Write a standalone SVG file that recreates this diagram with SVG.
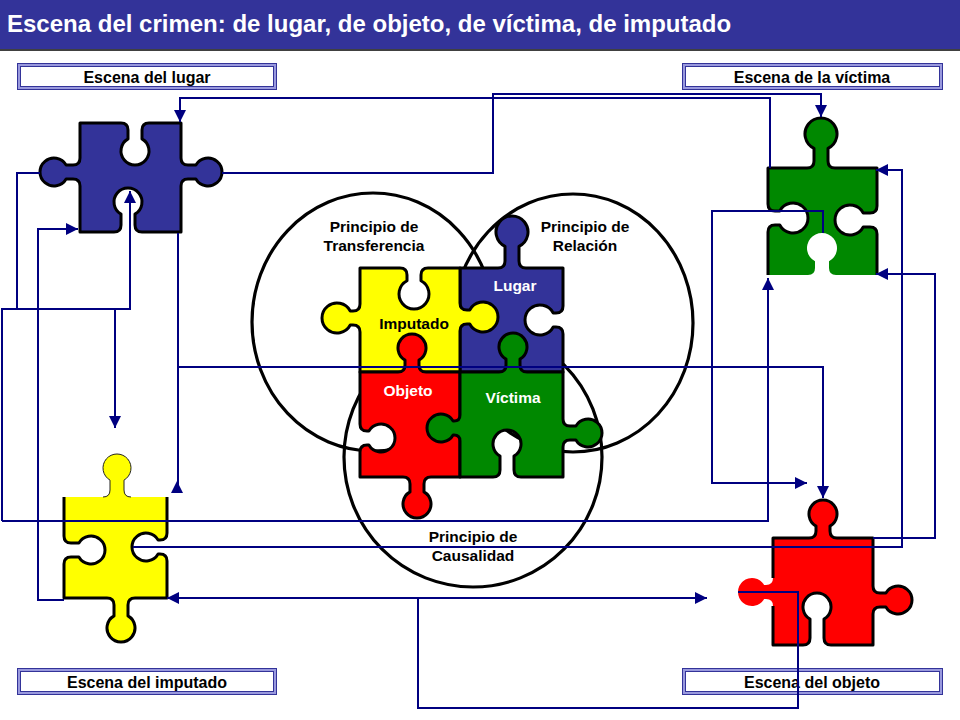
<svg xmlns="http://www.w3.org/2000/svg" width="960" height="720" viewBox="0 0 960 720">
<style>
.t{font-family:"Liberation Sans",Arial,sans-serif;font-weight:bold;text-anchor:middle}
.lbl{font-size:16px;fill:#000}
.pr{font-size:15.5px;fill:#000}
.wt{fill:#fff}
.pc{stroke:#000;stroke-width:3;stroke-linejoin:round}
.ps{fill:none;stroke:#000;stroke-width:3;stroke-linejoin:round}
.circ{fill:none;stroke:#000;stroke-width:3.2}
.conn{fill:none;stroke:#000080;stroke-width:2}
.arr{marker-end:url(#ah)}
.bo{fill:#fff;stroke:#333399;stroke-width:1}
.bm{fill:none;stroke:#9999dd;stroke-width:2}
.bi{fill:#fff;stroke:#333399;stroke-width:1}
</style>
<defs>
<marker id="ah" viewBox="0 0 12 12" refX="12" refY="6" markerWidth="12" markerHeight="12" markerUnits="userSpaceOnUse" orient="auto">
<path d="M0,0 L12,6 L0,12 z" fill="#000080"/>
</marker>
</defs>
<rect width="960" height="720" fill="#fff"/>
<g id="header">
<rect x="0" y="0" width="960" height="49" fill="#333399"/>
<line x1="0" y1="50" x2="960" y2="50" stroke="#000" stroke-width="1.5"/>
<text x="7" y="32" font-family="'Liberation Sans',Arial,sans-serif" font-weight="bold" font-size="24" fill="#fff">Escena del crimen: de lugar, de objeto, de víctima, de imputado</text>
</g>
<g id="box-lugar">
<rect class="bo" x="17.5" y="63.5" width="259" height="26"/>
<rect class="bm" x="19" y="65" width="256" height="23"/>
<rect class="bi" x="20.5" y="66.5" width="253" height="20"/>
<text class="t lbl" x="147" y="83">Escena del lugar</text>
</g>
<g id="box-victima">
<rect class="bo" x="682.5" y="63.5" width="260" height="26"/>
<rect class="bm" x="684" y="65" width="257" height="23"/>
<rect class="bi" x="685.5" y="66.5" width="254" height="20"/>
<text class="t lbl" x="812" y="83">Escena de la víctima</text>
</g>
<g id="box-imputado">
<rect class="bo" x="17.5" y="668.5" width="259" height="26"/>
<rect class="bm" x="19" y="670" width="256" height="23"/>
<rect class="bi" x="20.5" y="671.5" width="253" height="20"/>
<text class="t lbl" x="147" y="688">Escena del imputado</text>
</g>
<g id="box-objeto">
<rect class="bo" x="682.5" y="668.5" width="260" height="26"/>
<rect class="bm" x="684" y="670" width="257" height="23"/>
<rect class="bi" x="685.5" y="671.5" width="254" height="20"/>
<text class="t lbl" x="812" y="688">Escena del objeto</text>
</g>
<g id="principios">
<ellipse class="circ" cx="373" cy="322" rx="121" ry="129"/>
<ellipse class="circ" cx="573" cy="323" rx="120" ry="129"/>
<ellipse class="circ" cx="473" cy="457" rx="129" ry="130"/>
<text class="t pr" x="374" y="232">Principio de</text>
<text class="t pr" x="374" y="251">Transferencia</text>
<text class="t pr" x="585" y="232">Principio de</text>
<text class="t pr" x="585" y="251">Relación</text>
<text class="t pr" x="473" y="542">Principio de</text>
<text class="t pr" x="473" y="561">Causalidad</text>
</g>
<g id="center-lugar">
<path class="pc" fill="#333399" d="M 460 268 L 498 268 Q 505 268 505 261 L 505 246.39 A 16 16 0 1 1 519 246.39 L 519 261 Q 519 268 526 268 L 563 268 L 563 306 Q 563 313 556 313 L 553.27 313 A 15 15 0 1 0 553.27 327 L 556 327 Q 563 327 563 334 L 563 372 L 460 372 Z"/>
<text class="t pr wt" x="515" y="291">Lugar</text>
</g>
<g id="center-imputado">
<path class="pc" fill="#ffff00" d="M 360 268 L 400 268 Q 407 268 407 275 L 407 280.73 A 15 15 0 1 0 421 280.73 L 421 275 Q 421 268 428 268 L 460 268 L 460 303 Q 460 310 467 310 L 469.73 310 A 15 15 0 1 1 469.73 324 L 467 324 Q 460 324 460 331 L 460 372 L 360 372 L 360 332 Q 360 325 353 325 L 350.27 325 A 15 15 0 1 1 350.27 311 L 353 311 Q 360 311 360 304 Z"/>
<text class="t pr" x="414" y="329">Imputado</text>
</g>
<g id="center-objeto">
<path class="pc" fill="#ff0000" d="M 360 372 L 398 372 Q 405 372 405 365 L 405 360.12 A 14 14 0 1 1 419 360.12 L 419 365 Q 419 372 426 372 L 460 372 L 460 477 L 431 477 Q 424 477 424 484 L 424 491.88 A 14 14 0 1 1 410 491.88 L 410 484 Q 410 477 403 477 L 360 477 L 360 452 Q 360 445 367 445 L 368.88 445 A 14 14 0 1 0 368.88 431 L 367 431 Q 360 431 360 424 Z"/>
<text class="t pr wt" x="408" y="396">Objeto</text>
</g>
<g id="center-victima">
<path class="pc" fill="#008800" d="M 460 372 L 499 372 Q 506 372 506 365 L 506 359.12 A 14 14 0 1 1 520 359.12 L 520 365 Q 520 372 527 372 L 563 372 L 563 419 Q 563 426 570 426 L 575.88 426 A 14 14 0 1 1 575.88 440 L 570 440 Q 563 440 563 447 L 563 477 L 521 477 Q 514 477 514 470 L 514 456.12 A 14 14 0 1 0 500 456.12 L 500 470 Q 500 477 493 477 L 460 477 L 460 441 Q 460 435 454 435 L 453.12 435 A 14 14 0 1 1 453.12 421 L 454 421 Q 460 421 460 415 Z"/>
<text class="t pr wt" x="513" y="403">Víctima</text>
</g>
<g id="escena-lugar">
<path class="pc" fill="#333399" d="M 80 123 L 121 123 Q 128 123 128 130 L 128 138.88 A 14 14 0 1 0 142 138.88 L 142 130 Q 142 123 149 123 L 181 123 L 181 158 Q 181 165 188 165 L 195.88 165 A 14 14 0 1 1 195.88 179 L 188 179 Q 181 179 181 186 L 181 232 L 142 232 Q 135 232 135 225 L 135 214.12 A 14 14 0 1 0 121 214.12 L 121 225 Q 121 232 114 232 L 80 232 L 80 186 Q 80 179 73 179 L 66.12 179 A 14 14 0 1 1 66.12 165 L 73 165 Q 80 165 80 158 Z"/>
</g>
<g id="escena-victima">
<path fill="#008800" d="M 768 168 L 807 168 Q 814 168 814 161 L 814 148.39 A 16 16 0 1 1 828 148.39 L 828 161 Q 828 168 835 168 L 877 168 L 877 206 Q 877 213 870 213 L 863.27 213 A 15 15 0 1 0 863.27 227 L 870 227 Q 877 227 877 234 L 877 275 L 836 275 Q 829 275 829 268 L 829 261.27 A 15 15 0 1 0 815 261.27 L 815 268 Q 815 275 808 275 L 768 275 L 768 232 Q 768 225 775 225 L 779.73 225 A 15 15 0 1 0 779.73 211 L 775 211 Q 768 211 768 204 Z"/>
<path class="ps" d="M 768 275 L 768 232 Q 768 225 775 225 L 779.73 225 A 15 15 0 1 0 779.73 211 L 775 211 Q 768 211 768 204 L 768 168 L 807 168 Q 814 168 814 161 L 814 148.39 A 16 16 0 1 1 828 148.39 L 828 161 Q 828 168 835 168 L 877 168 L 877 206 Q 877 213 870 213 L 863.27 213 A 15 15 0 1 0 863.27 227 L 870 227 Q 877 227 877 234 L 877 275"/>
</g>
<g id="escena-imputado">
<path fill="#ffff00" d="M 64 497 L 103 497 Q 110 497 110 490 L 110 480.12 A 14 14 0 1 1 124 480.12 L 124 490 Q 124 497 131 497 L 167 497 L 167 533 Q 167 540 160 540 L 158.12 540 A 14 14 0 1 0 158.12 554 L 160 554 Q 167 554 167 561 L 167 598 L 135 598 Q 128 598 128 605 L 128 615.88 A 14 14 0 1 1 114 615.88 L 114 605 Q 114 598 107 598 L 64 598 L 64 564 Q 64 557 71 557 L 78.88 557 A 14 14 0 1 0 78.88 543 L 71 543 Q 64 543 64 536 Z"/>
<path class="ps" d="M 167 497 L 167 533 Q 167 540 160 540 L 158.12 540 A 14 14 0 1 0 158.12 554 L 160 554 Q 167 554 167 561 L 167 598 L 135 598 Q 128 598 128 605 L 128 615.88 A 14 14 0 1 1 114 615.88 L 114 605 Q 114 598 107 598 L 64 598 L 64 564 Q 64 557 71 557 L 78.88 557 A 14 14 0 1 0 78.88 543 L 71 543 Q 64 543 64 536 L 64 497"/>
<path fill="none" stroke="#222" stroke-width="1" d="M 103 497 Q 110 497 110 490 L 110 480.12 A 14 14 0 1 1 124 480.12 L 124 490 Q 124 497 131 497"/>
</g>
<g id="escena-objeto">
<path fill="#ff0000" d="M 773 538 L 809 538 Q 816 538 816 531 L 816 526.12 A 14 14 0 1 1 830 526.12 L 830 531 Q 830 538 837 538 L 873 538 L 873 586 Q 873 593 880 593 L 885.88 593 A 14 14 0 1 1 885.88 607 L 880 607 Q 873 607 873 614 L 873 645 L 831 645 Q 824 645 824 638 L 824 619.12 A 14 14 0 1 0 810 619.12 L 810 638 Q 810 645 803 645 L 773 645 L 773 606 Q 773 599 766 599 L 764.12 599 A 14 14 0 1 1 764.12 585 L 766 585 Q 773 585 773 578 Z"/>
<path class="ps" d="M 773 578 L 773 538 L 809 538 Q 816 538 816 531 L 816 526.12 A 14 14 0 1 1 830 526.12 L 830 531 Q 830 538 837 538 L 873 538 L 873 586 Q 873 593 880 593 L 885.88 593 A 14 14 0 1 1 885.88 607 L 880 607 Q 873 607 873 614 L 873 645 L 831 645 Q 824 645 824 638 L 824 619.12 A 14 14 0 1 0 810 619.12 L 810 638 Q 810 645 803 645 L 773 645 L 773 606"/>
</g>
<g id="connectors">
<path class="conn arr" d="M 770 168 V 98 H 180 V 122"/>
<path class="conn arr" d="M 222 173 H 493 V 94 H 821 V 117"/>
<path class="conn arr" d="M 40 173 H 17 V 309 H 115 V 428"/>
<path class="conn arr" d="M 2 521 V 309 H 130 V 191"/>
<path class="conn arr" d="M 2 521 H 768 V 278"/>
<path class="conn arr" d="M 178 233 V 367 H 823 V 498"/>
<path class="conn" d="M 178 367 V 493"/>
<polygon points="177,481 171,493 183,493" fill="#000080"/>
<path class="conn arr" d="M 133 547 H 902 V 170 H 876"/>
<path class="conn arr" d="M 873 538 H 935 V 274 H 876"/>
<path class="conn arr" d="M 738 592 H 798 V 708 H 418 V 598 H 167"/>
<path class="conn arr" d="M 418 598 H 707"/>
<path class="conn arr" d="M 64 600 H 38 V 229 H 78"/>
<path class="conn arr" d="M 823 233 V 211 H 712 V 483 H 807"/>
</g>
</svg>
